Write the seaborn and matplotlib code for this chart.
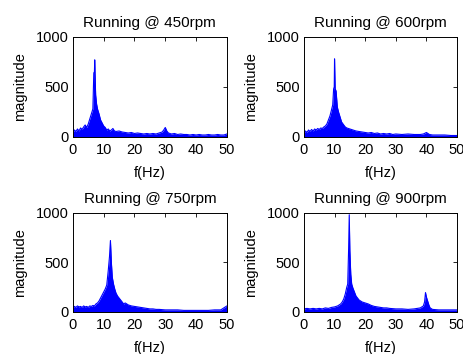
import matplotlib
matplotlib.use('Agg')
import matplotlib.pyplot as plt
import seaborn as sns

# 各转速下的频谱幅值
freq_450 = [0, 0.5, 1, 1.5, 2, 2.5, 3, 3.5, 4, 4.5,
            5, 5.5, 6, 6.5, 6.8, 7.0, 7.1, 7.2, 7.4, 7.7,
            8, 8.5, 9, 9.5, 10, 10.5, 11, 11.5, 12, 12.5,
            13, 13.5, 14, 15, 16, 17, 18, 19, 20, 21,
            22, 23, 24, 25, 26, 27, 28, 29, 29.5, 30,
            30.5, 31, 32, 33, 34, 35, 36, 37, 38, 39,
            40, 41, 42, 43, 44, 45, 46, 47, 48, 49, 50]
mag_450 = [40, 70, 55, 80, 60, 90, 75, 100, 120, 95,
           130, 180, 230, 280, 640, 650, 770, 640, 420, 330,
           280, 230, 170, 140, 110, 95, 70, 80, 60, 70,
           85, 60, 55, 60, 50, 45, 40, 45, 35, 40,
           35, 30, 35, 30, 35, 30, 40, 50, 70, 95,
           60, 40, 30, 35, 25, 30, 25, 25, 20, 25,
           20, 25, 20, 20, 25, 20, 20, 25, 20, 20, 30]

freq_600 = [0, 0.5, 1, 1.5, 2, 2.5, 3, 3.5, 4, 4.5,
            5, 5.5, 6, 6.5, 7, 7.5, 8, 8.5, 9, 9.4,
            9.7, 9.9, 10.0, 10.2, 10.5, 10.9, 11.3, 11.8, 12.3, 13,
            13.5, 14, 15, 16, 17, 18, 19, 20, 21, 22,
            23, 24, 25, 26, 27, 28, 29, 30, 32, 34,
            36, 38, 39, 40, 41, 42, 44, 46, 48, 50]
mag_600 = [40, 60, 45, 70, 55, 75, 60, 80, 70, 85,
           75, 90, 85, 100, 110, 130, 170, 210, 270, 320,
           480, 500, 780, 480, 460, 300, 250, 200, 150, 120,
           100, 90, 80, 70, 60, 55, 50, 45, 40, 45,
           35, 40, 30, 35, 30, 35, 25, 30, 25, 30,
           25, 25, 30, 45, 25, 20, 20, 20, 15, 15]

freq_750 = [0, 0.5, 1, 1.5, 2, 2.5, 3, 3.5, 4, 4.5,
            5, 5.5, 6, 6.5, 7, 7.5, 8, 8.5, 9, 9.5,
            10, 10.5, 11, 11.5, 11.9, 12.2, 12.5, 12.8, 13.2, 13.6,
            14, 14.5, 15, 15.5, 16, 16.5, 17, 18, 19, 20,
            21, 22, 23, 24, 25, 26, 27, 28, 30, 32,
            34, 36, 38, 40, 42, 44, 46, 48, 49, 50]
mag_750 = [40, 55, 45, 60, 50, 55, 45, 60, 50, 55,
           45, 60, 55, 65, 60, 80, 90, 110, 140, 170,
           200, 230, 270, 420, 560, 720, 500, 350, 280, 230,
           190, 160, 140, 120, 100, 80, 90, 70, 60, 55,
           50, 45, 40, 35, 30, 30, 25, 25, 20, 20,
           20, 15, 15, 15, 15, 15, 20, 20, 40, 60]

freq_900 = [0, 1, 2, 3, 4, 5, 6, 7, 8, 9,
            10, 10.5, 11, 11.5, 12, 12.5, 13, 13.5, 14, 14.3,
            14.6, 14.8, 15.0, 15.3, 15.6, 16, 16.5, 17, 17.5, 18,
            18.5, 19, 19.5, 20, 21, 22, 23, 24, 25, 26,
            27, 28, 30, 32, 34, 36, 37, 38, 39, 39.4,
            39.7, 40, 40.4, 40.8, 41.2, 42, 44, 46, 48, 50]
mag_900 = [30, 35, 30, 35, 30, 35, 30, 40, 35, 45,
           50, 55, 60, 70, 80, 100, 130, 180, 250, 280,
           640, 980, 620, 380, 280, 240, 200, 160, 140, 120,
           110, 100, 95, 90, 80, 65, 55, 50, 45, 40,
           40, 35, 30, 30, 25, 30, 35, 40, 60, 100,
           195, 150, 110, 70, 40, 25, 20, 20, 20, 20]

titles = ['Running @ 450rpm', 'Running @ 600rpm', 'Running @ 750rpm', 'Running @ 900rpm']
spectra = [(freq_450, mag_450), (freq_600, mag_600), (freq_750, mag_750), (freq_900, mag_900)]

sns.set_theme(style='white')
plt.rcParams['font.family'] = ['Liberation Sans', 'DejaVu Sans']
plt.rcParams['xtick.direction'] = 'in'
plt.rcParams['ytick.direction'] = 'in'

fig = plt.figure(figsize=(4.64, 3.54), dpi=100)
# 子图位置 [left, bottom, width, height]
positions = [[0.157, 0.613, 0.332, 0.283],
             [0.655, 0.613, 0.330, 0.283],
             [0.157, 0.119, 0.332, 0.280],
             [0.655, 0.119, 0.330, 0.280]]

for pos, title, (f, m) in zip(positions, titles, spectra):
    ax = fig.add_axes(pos)
    ax.fill_between(f, 0, m, color='#0000ff', lw=0)
    sns.lineplot(x=f, y=m, color='#0000ff', lw=0.8, ax=ax)
    ax.set_xlim(0, 50)
    ax.set_ylim(0, 1000)
    ax.set_xticks([0, 10, 20, 30, 40, 50])
    ax.set_yticks([0, 500, 1000])
    ax.tick_params(axis='both', labelsize=10.5, length=3, width=0.6, color='black',
                   top=True, right=True, labelcolor='black')
    ax.tick_params(axis='x', pad=4.5)
    ax.tick_params(axis='y', pad=3)
    for sp in ax.spines.values():
        sp.set_color('black')
        sp.set_linewidth(0.7)
    ax.set_title(title, fontsize=11, pad=7, color='black')
    ax.set_xlabel('f(Hz)', fontsize=10.5, labelpad=6.5, color='black')
    ax.set_ylabel('magnitude', fontsize=10.5, labelpad=6, color='black')

fig.savefig('out.png', dpi=100, facecolor='white')
